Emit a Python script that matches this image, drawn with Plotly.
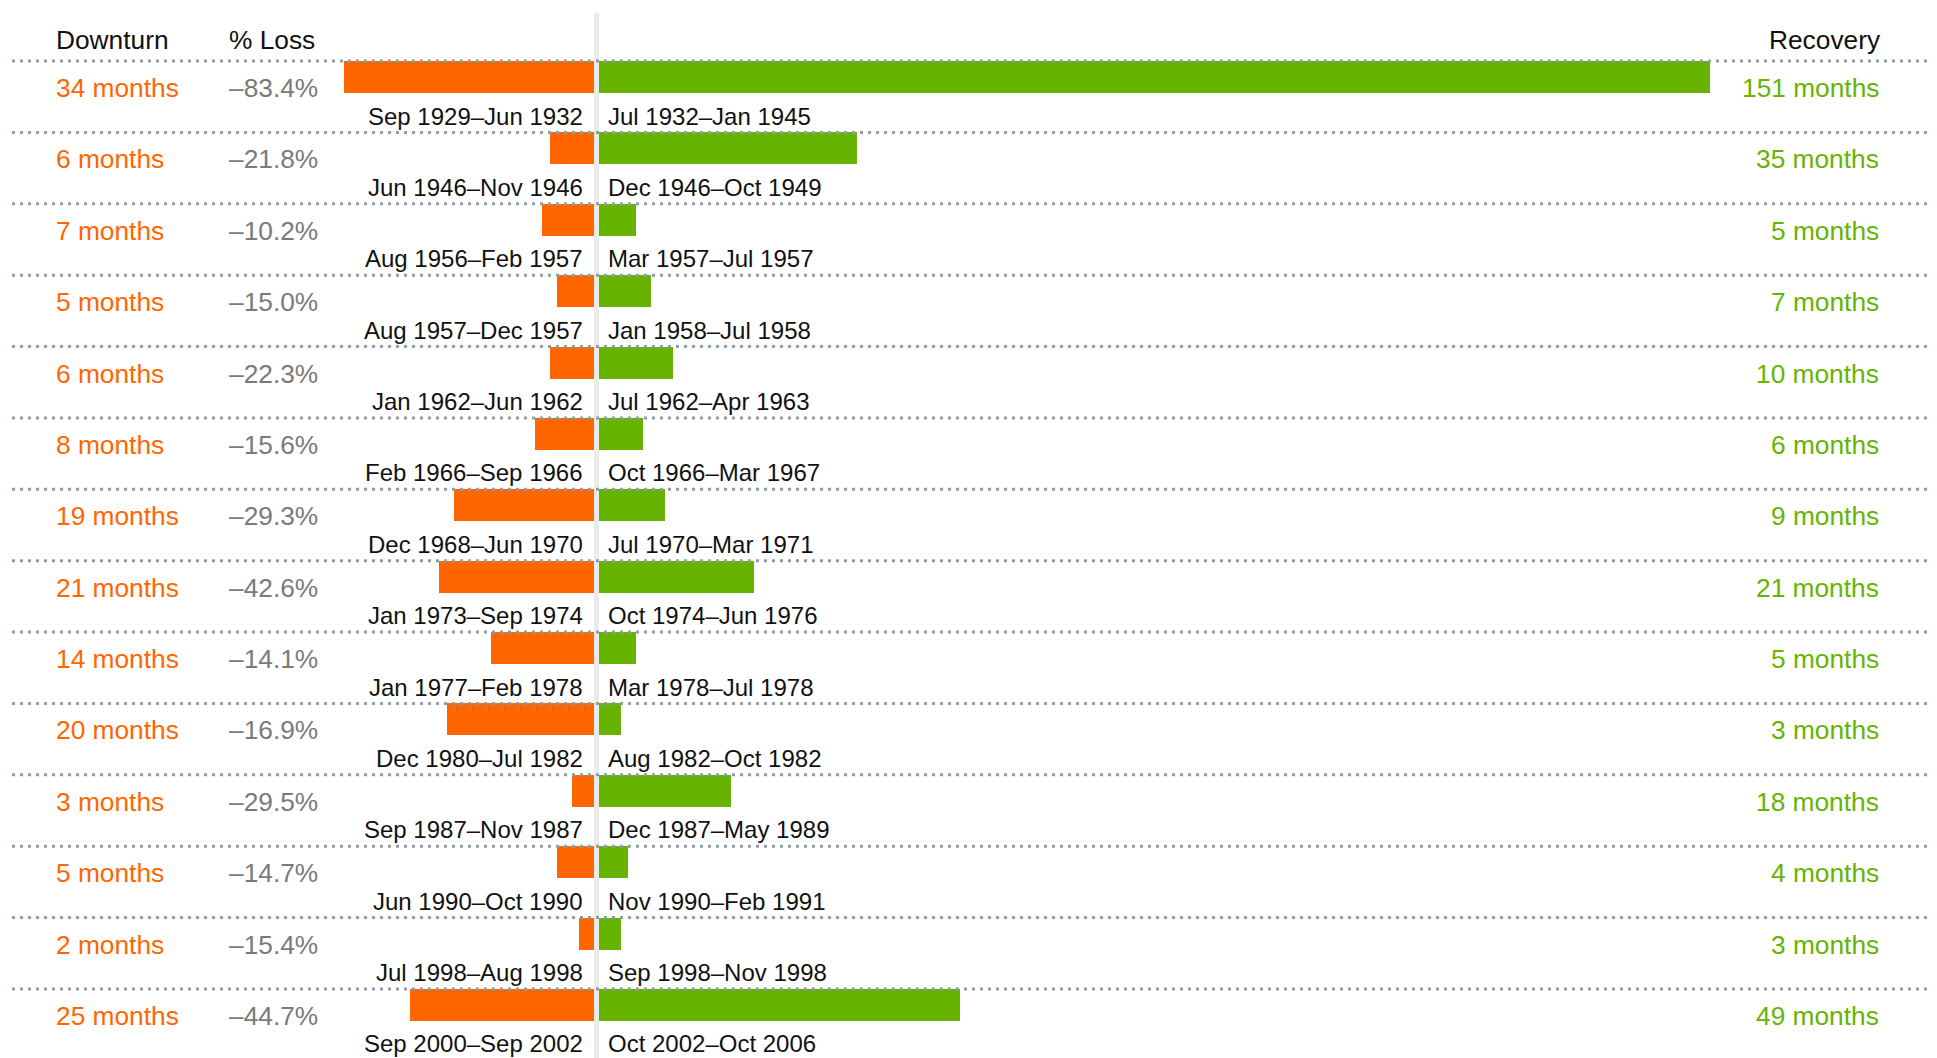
import plotly.graph_objects as go

# ---- data ----
downturn_months = [34, 6, 7, 5, 6, 8, 19, 21, 14, 20, 3, 5, 2, 25]
recovery_months = [151, 35, 5, 7, 10, 6, 9, 21, 5, 3, 18, 4, 3, 49]
loss_labels = ["–83.4%", "–21.8%", "–10.2%", "–15.0%", "–22.3%", "–15.6%", "–29.3%",
               "–42.6%", "–14.1%", "–16.9%", "–29.5%", "–14.7%", "–15.4%", "–44.7%"]
downturn_periods = ["Sep 1929–Jun 1932", "Jun 1946–Nov 1946", "Aug 1956–Feb 1957",
                    "Aug 1957–Dec 1957", "Jan 1962–Jun 1962", "Feb 1966–Sep 1966",
                    "Dec 1968–Jun 1970", "Jan 1973–Sep 1974", "Jan 1977–Feb 1978",
                    "Dec 1980–Jul 1982", "Sep 1987–Nov 1987", "Jun 1990–Oct 1990",
                    "Jul 1998–Aug 1998", "Sep 2000–Sep 2002"]
recovery_periods = ["Jul 1932–Jan 1945", "Dec 1946–Oct 1949", "Mar 1957–Jul 1957",
                    "Jan 1958–Jul 1958", "Jul 1962–Apr 1963", "Oct 1966–Mar 1967",
                    "Jul 1970–Mar 1971", "Oct 1974–Jun 1976", "Mar 1978–Jul 1978",
                    "Aug 1982–Oct 1982", "Dec 1987–May 1989", "Nov 1990–Feb 1991",
                    "Sep 1998–Nov 1998", "Oct 2002–Oct 2006"]
headers = ["Downturn", "% Loss", "Recovery"]

# ---- style ----
W, H = 1937, 1058
ORANGE = "#ff6600"
GREEN = "#66b400"
GRAY_TXT = "#7a7a7a"
DOT = "#8e9ea7"
FONT = "Liberation Sans, Arial, sans-serif"
BIG = 26.3
SMALL = 24.0
PX_PER_MONTH = 7.36
CENTER_PX = 596.5
ROW_PX = 71.38
FIRST_BAR_CENTER_PX = 77
BAR_PX = 32
GAP = 2.5 / PX_PER_MONTH

n = len(downturn_months)
rows = list(range(n))

x_min = -CENTER_PX / PX_PER_MONTH
x_max = (W - CENTER_PX) / PX_PER_MONTH
y_top = -FIRST_BAR_CENTER_PX / ROW_PX
y_bot = y_top + H / ROW_PX
bar_w = BAR_PX / ROW_PX
row_top_off = -(BAR_PX / 2) / ROW_PX

fig = go.Figure()
fig.add_trace(go.Bar(
    y=rows, x=[-d for d in downturn_months], base=[-GAP] * n, orientation="h",
    marker=dict(color=ORANGE, line=dict(width=0)), width=bar_w, hoverinfo="skip"))
fig.add_trace(go.Bar(
    y=rows, x=recovery_months, base=[GAP] * n, orientation="h",
    marker=dict(color=GREEN, line=dict(width=0)), width=bar_w, hoverinfo="skip"))

shapes = []
# vertical divider
shapes.append(dict(type="line", xref="x", yref="paper", x0=0, x1=0,
                   y0=0, y1=1 - 13 / H, line=dict(color="#ebebeb", width=5), layer="below"))
# dotted row separators
for i in rows:
    shapes.append(dict(type="line", xref="paper", yref="y", x0=12 / W, x1=1928 / W,
                       y0=i + row_top_off, y1=i + row_top_off,
                       line=dict(color=DOT, width=3, dash="3px,5px"), layer="above"))

LEFT1 = 54 / W
LEFT2 = 227 / W
RIGHT = 1881 / W

ann = []
hdr_y = 1 - 40 / H
ann.append(dict(text=headers[0], x=LEFT1, xanchor="left", y=hdr_y))
ann.append(dict(text=headers[1], x=LEFT2, xanchor="left", y=hdr_y))
ann.append(dict(text=headers[2], x=RIGHT + 2 / W, xanchor="right", y=hdr_y))
for a in ann:
    a.update(xref="paper", yref="paper", yanchor="middle", showarrow=False,
             font=dict(family=FONT, size=BIG, color="#111111"))

label_off = 11 / ROW_PX
date_off = 39 / ROW_PX
for i in rows:
    ann.append(dict(text=f"{downturn_months[i]} months", xref="paper", x=LEFT1, xanchor="left",
                    yref="y", y=i + label_off, yanchor="middle", showarrow=False,
                    font=dict(family=FONT, size=BIG, color=ORANGE)))
    ann.append(dict(text=loss_labels[i], xref="paper", x=LEFT2, xanchor="left",
                    yref="y", y=i + label_off, yanchor="middle", showarrow=False,
                    font=dict(family=FONT, size=BIG, color=GRAY_TXT)))
    ann.append(dict(text=f"{recovery_months[i]} months", xref="paper", x=RIGHT, xanchor="right",
                    yref="y", y=i + label_off, yanchor="middle", showarrow=False,
                    font=dict(family=FONT, size=BIG, color=GREEN)))
    ann.append(dict(text=downturn_periods[i], xref="x", x=0, xshift=-11.5, xanchor="right",
                    yref="y", y=i + date_off, yanchor="middle", showarrow=False,
                    font=dict(family=FONT, size=SMALL, color="#111111")))
    ann.append(dict(text=recovery_periods[i], xref="x", x=0, xshift=9.5, xanchor="left",
                    yref="y", y=i + date_off, yanchor="middle", showarrow=False,
                    font=dict(family=FONT, size=SMALL, color="#111111")))

fig.update_layout(
    width=W, height=H, margin=dict(l=0, r=0, t=0, b=0, pad=0),
    paper_bgcolor="white", plot_bgcolor="white", showlegend=False,
    barmode="overlay", bargap=0,
    xaxis=dict(range=[x_min, x_max], visible=False, fixedrange=True),
    yaxis=dict(range=[y_bot, y_top], visible=False, fixedrange=True),
    shapes=shapes, annotations=ann,
)

fig.write_html("out.html", include_plotlyjs=True,
               config={"displayModeBar": False},
               post_script="document.body.style.margin='0';document.body.style.overflow='hidden';")
